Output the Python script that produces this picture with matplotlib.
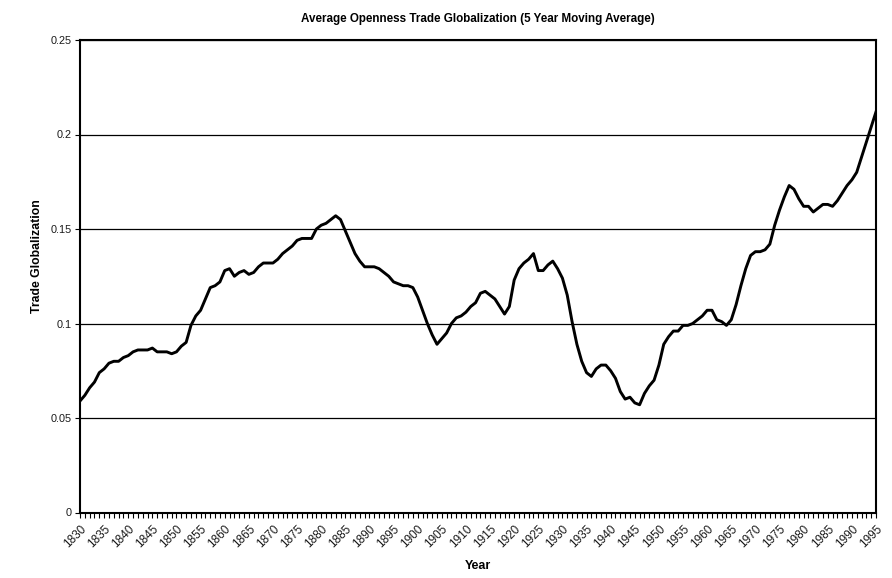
import matplotlib
matplotlib.use("Agg")
import matplotlib.pyplot as plt
from matplotlib.ticker import MultipleLocator

years = list(range(1830, 1996))
values = [
    0.059, 0.062, 0.066, 0.069, 0.074, 0.076, 0.079, 0.080, 0.080, 0.082,  # 1830-1839
    0.083, 0.085, 0.086, 0.086, 0.086, 0.087, 0.085, 0.085, 0.085, 0.084,  # 1840-1849
    0.085, 0.088, 0.090, 0.099, 0.104, 0.107, 0.113, 0.119, 0.120, 0.122,  # 1850-1859
    0.128, 0.129, 0.125, 0.127, 0.128, 0.126, 0.127, 0.130, 0.132, 0.132,  # 1860-1869
    0.132, 0.134, 0.137, 0.139, 0.141, 0.144, 0.145, 0.145, 0.145, 0.150,  # 1870-1879
    0.152, 0.153, 0.155, 0.157, 0.155, 0.149, 0.143, 0.137, 0.133, 0.130,  # 1880-1889
    0.130, 0.130, 0.129, 0.127, 0.125, 0.122, 0.121, 0.120, 0.120, 0.119,  # 1890-1899
    0.114, 0.107, 0.100, 0.094, 0.089, 0.092, 0.095, 0.100, 0.103, 0.104,  # 1900-1909
    0.106, 0.109, 0.111, 0.116, 0.117, 0.115, 0.113, 0.109, 0.105, 0.109,  # 1910-1919
    0.123, 0.129, 0.132, 0.134, 0.137, 0.128, 0.128, 0.131, 0.133, 0.129,  # 1920-1929
    0.124, 0.115, 0.101, 0.089, 0.080, 0.074, 0.072, 0.076, 0.078, 0.078,  # 1930-1939
    0.075, 0.071, 0.064, 0.060, 0.061, 0.058, 0.057, 0.063, 0.067, 0.070,  # 1940-1949
    0.078, 0.089, 0.093, 0.096, 0.096, 0.099, 0.099, 0.100, 0.102, 0.104,  # 1950-1959
    0.107, 0.107, 0.102, 0.101, 0.099, 0.102, 0.110, 0.120, 0.129, 0.136,  # 1960-1969
    0.138, 0.138, 0.139, 0.142, 0.152, 0.160, 0.167, 0.173, 0.171, 0.166,  # 1970-1979
    0.162, 0.162, 0.159, 0.161, 0.163, 0.163, 0.162, 0.165, 0.169, 0.173,  # 1980-1989
    0.176, 0.180, 0.188, 0.196, 0.204, 0.212,                              # 1990-1995
]
xtick_labels = list(range(1830, 1996, 5))
yticks = [0, 0.05, 0.1, 0.15, 0.2, 0.25]
ytick_labels = ["0", "0.05", "0.1", "0.15", "0.2", "0.25"]

title = "Average Openness Trade Globalization (5 Year Moving Average)"
xlabel = "Year"
ylabel = "Trade Globalization"

plt.rcParams['font.family'] = ['Liberation Sans', 'DejaVu Sans']

fig = plt.figure(figsize=(8.92, 5.78), dpi=100)
ax = fig.add_axes([80/892, 1 - 512.5/578, (876-80)/892, (512.5-40)/578])

ax.plot(years, values, color="black", linewidth=2.1, solid_joinstyle="round")

ax.set_xlim(1830, 1995)
ax.set_ylim(0, 0.25)
ax.set_yticks(yticks)
ax.set_yticklabels(ytick_labels, fontsize=7.8, color="#1a1a1a")
ax.set_xticks(xtick_labels)
ax.set_xticklabels([str(x) for x in xtick_labels], rotation=45, ha="right",
                   rotation_mode="anchor", fontsize=8.5, color="#1a1a1a")
ax.xaxis.set_minor_locator(MultipleLocator(1))
ax.tick_params(axis="x", which="both", direction="out", length=3.5, width=0.8, pad=4)
ax.tick_params(axis="y", which="major", direction="out", length=3.5, width=0.8, pad=2.5)

ax.grid(axis="y", color="black", linewidth=0.9)
ax.set_axisbelow(True)
for s in ax.spines.values():
    s.set_linewidth(1.5)
    s.set_color("black")

ax.set_title(title, fontsize=8.4, fontweight="bold", pad=13)
ax.set_xlabel(xlabel, fontsize=9, fontweight="bold", labelpad=7)
ax.set_ylabel(ylabel, fontsize=8.8, fontweight="bold")
ax.yaxis.set_label_coords((43 - 80) / 796, (512.5 - 256) / 472.5)

fig.savefig("out.png", dpi=100)
